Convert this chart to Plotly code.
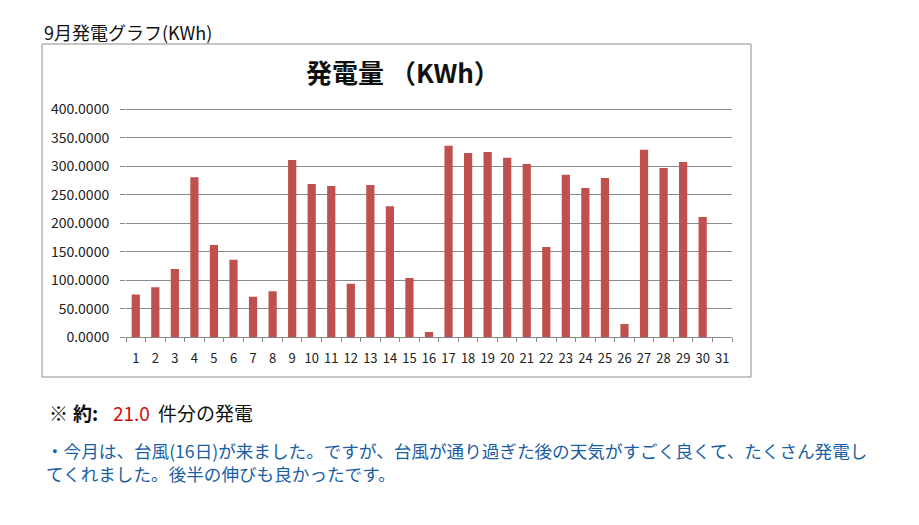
import plotly.graph_objects as go

days = [str(d) for d in range(1, 32)]
kwh = [75, 88, 120, 281, 162, 136, 71, 81, 311, 269, 265.5, 94, 267, 230,
       104, 9.4, 336, 323.5, 325, 315, 304, 158.5, 285, 262, 279.5, 23.4,
       329, 297, 307.5, 211, None]
y_ticks = [0, 50, 100, 150, 200, 250, 300, 350, 400]

W, H = 919, 525
def px(x): return x / W
def py(y): return 1 - y / H

FONT = "Noto Sans CJK JP, Noto Sans, sans-serif"

fig = go.Figure(go.Bar(x=days, y=kwh, marker_color="#C0504D", width=0.42,
                       marker_line_width=0))

def note(x, y, text, size, color, anchor="left"):
    return dict(xref="paper", yref="paper", x=px(x), y=py(y), xanchor=anchor,
                yanchor="middle", showarrow=False, text=text, align="left",
                font=dict(size=size, color=color))

fig.update_layout(
    width=W, height=H,
    margin=dict(l=0, r=0, t=0, b=0, pad=0, autoexpand=False),
    paper_bgcolor="white", plot_bgcolor="white", showlegend=False,
    font=dict(family=FONT, color="#222"),
    xaxis=dict(domain=[px(126), px(732)], type="category", tickson="boundaries",
               ticks="outside", ticklen=4, tickcolor="#868686", tickangle=0,
               ticklabelstandoff=9,
               showline=True, linecolor="#868686", linewidth=1, automargin=False,
               tickfont=dict(size=13, color="#222"), showgrid=False),
    yaxis=dict(domain=[py(337.3), py(107.3)], range=[0, 403.5], tickvals=y_ticks,
               tickformat=".4f", ticks="outside", ticklen=5, tickcolor="#868686",
               ticklabelstandoff=8,
               showgrid=True, gridcolor="#8a8a8a", gridwidth=1, zeroline=False,
               showline=False, automargin=False,
               tickfont=dict(size=14, color="#222")),
    shapes=[dict(type="rect", xref="paper", yref="paper",
                 x0=px(42), x1=px(751), y0=py(377), y1=py(44),
                 line=dict(color="#8c8c8c", width=1))],
    annotations=[
        note(42, 32, "9月発電グラフ(KWh)", 18, "#111"),
        note(403, 72, "<b>発電量 （KWh）</b>", 26, "#111", "center"),
        note(47, 412, "<b>※</b>", 19, "#111"),
        note(71, 412, "<b>約:</b>", 19, "#111"),
        note(111, 412, "21.0", 19, "#d01010"),
        note(156, 412, "件分の発電", 19, "#111"),
        note(44, 462,
             "・今月は、台風(16日)が来ました。ですが、台風が通り過ぎた後の天気がすごく良くて、たくさん発電し"
             "<br>てくれました。後半の伸びも良かったです。", 17.6, "#1a5fa5"),
    ],
)

fig.write_html("out.html", config={"displayModeBar": False},
               post_script="document.body.style.margin='0';document.body.style.overflow='hidden';")
